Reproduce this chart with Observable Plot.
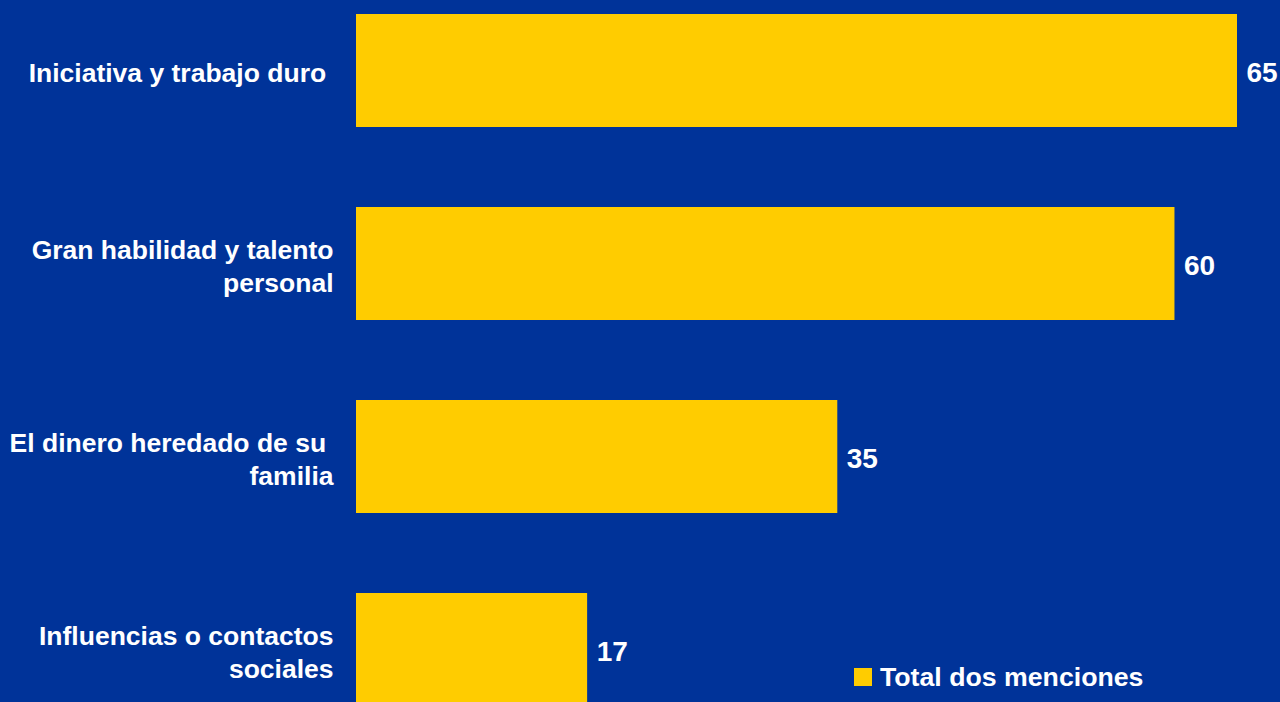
<!DOCTYPE html>
<html>
<head>
<meta charset="utf-8">
<script src="https://cdn.jsdelivr.net/npm/d3@7"></script>
<script src="https://cdn.jsdelivr.net/npm/@observablehq/plot@0.6"></script>
<style>
  html, body { margin: 0; padding: 0; background: #003399; overflow: hidden; }
  #wrap { position: relative; width: 1280px; height: 702px; }
  #wrap svg text { white-space: pre; }
  #legend { position: absolute; left: 854px; top: 661px; display: flex; align-items: center; line-height: 32px;
    font-family: "Liberation Sans", Arial, sans-serif; font-weight: bold; font-size: 26.7px; color: #ffffff; }
  #legend .sw { width: 18px; height: 18px; background: #FFCC00; margin-right: 8px; }
</style>
</head>
<body>
<div id="wrap"><div id="legend"><span class="sw"></span><span id="legendText"></span></div></div>
<script>
const categories = [
  "Iniciativa y trabajo duro ",
  "Gran habilidad y talento\npersonal",
  "El dinero heredado de su \nfamilia",
  "Influencias o contactos\nsociales"
];
const values = [64.8, 60.2, 35.4, 17.0];
const seriesName = "Total dos menciones";

const data = categories.map((c, i) => ({category: c, value: values[i]}));

const chart = Plot.plot({
  width: 1280,
  height: 702,
  marginLeft: 356,
  marginRight: 43,
  marginTop: 0,
  marginBottom: 0,
  style: {background: "#003399", fontFamily: "'Liberation Sans', Arial, sans-serif", overflow: "hidden"},
  x: {axis: null},
  y: {axis: null, domain: categories, range: [12, 708], paddingInner: 0.412, paddingOuter: 0},
  marks: [
    Plot.barX(data, {x: "value", y: "category", fill: "#FFCC00"}),
    Plot.text(data, {x: 0, y: "category", text: "category", textAnchor: "end", dx: -23, dy: 0.5,
      fill: "#ffffff", fontSize: 26.5, fontWeight: "bold", lineHeight: 1.245}),
    Plot.text(data, {x: "value", y: "category", text: d => String(Math.round(d.value)), textAnchor: "start", dx: 9, dy: 2,
      fill: "#ffffff", fontSize: 28, fontWeight: "bold"})
  ]
});
document.getElementById("wrap").prepend(chart);
document.getElementById("legendText").textContent = seriesName;
</script>
</body>
</html>
